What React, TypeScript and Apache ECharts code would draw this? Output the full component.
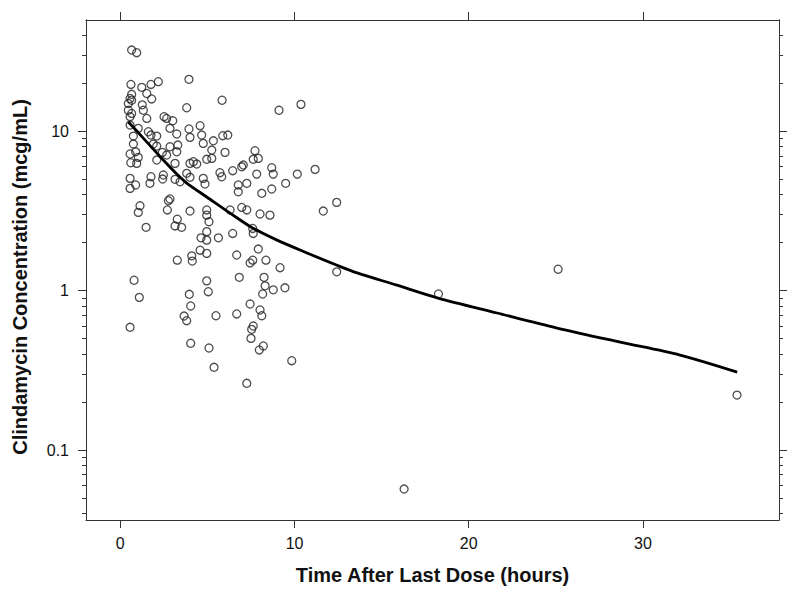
import React, { useEffect, useRef } from "react";
import * as echarts from "echarts";

// Observed data: time after last dose (hours) and clindamycin concentration (mcg/mL)
const timeHours = [
  0.65, 0.94, 0.61, 1.23, 1.76, 2.18, 3.94, 0.65, 1.52, 1.8, 0.65, 0.46, 3.81, 5.84, 1.26, 1.32, 9.11, 10.37,
  0.65, 1.52, 2.51, 2.66, 3.01, 0.56, 1.03, 2.85, 3.94, 4.58, 1.61, 3.24, 0.75, 1.76, 2.09, 4.0, 4.67, 5.88,
  6.17, 5.34, 4.76, 0.75, 1.89, 2.09, 2.85, 3.3, 0.88, 5.25, 6.01, 7.73, 0.56, 2.41, 2.66, 3.24, 1.03, 0.6,
  0.94, 2.09, 4.96, 5.25, 7.63, 7.92, 3.14, 4.0, 4.19, 4.39, 7.06, 6.97, 8.69, 11.18, 0.56, 0.88, 0.56, 1.7,
  2.43, 3.14, 3.43, 3.81, 4.0, 4.76, 4.86, 5.72, 5.82, 6.45, 6.77, 7.26, 7.83, 8.78, 8.12, 8.69, 9.49, 10.16,
  2.85, 0.46, 0.56, 0.56, 2.47, 1.76, 6.77,
  1.13, 1.03, 2.76, 2.7, 4.0, 4.96, 4.96, 6.3, 6.97, 7.26, 8.02, 8.59, 11.65, 12.42, 1.48, 3.27, 3.14, 3.52,
  5.09, 6.45, 7.6, 7.63, 4.96, 4.63, 4.96, 5.63, 4.58, 4.96, 4.1, 4.13, 3.27, 6.68, 7.92, 7.6, 7.45, 8.36,
  9.17, 12.42, 0.79, 1.09, 4.96, 5.05, 3.96, 4.04, 6.83, 8.25, 8.31, 8.78, 9.45, 8.17, 7.45, 8.02, 8.12, 3.66,
  3.81, 5.49, 6.68, 0.56, 7.63, 7.54, 7.5, 4.04, 5.09, 8.21, 7.98, 5.38, 7.26, 9.84, 16.29, 18.26, 25.13, 35.4,
];
const concentration = [
  32.2, 31.0, 19.6, 18.8, 19.6, 20.4, 21.1, 17.0, 17.2, 15.9, 15.6, 14.9, 14.0, 15.6, 14.6, 13.5, 13.5, 14.7,
  12.9, 12.0, 12.3, 12.0, 11.6, 10.9, 10.4, 10.4, 10.3, 10.8, 9.9, 9.58, 9.3, 9.44, 9.3, 9.13, 9.44, 9.35,
  9.44, 8.69, 8.37, 8.29, 8.29, 8.05, 7.97, 8.17, 7.41, 7.6, 7.35, 7.53, 7.18, 7.35, 7.07, 7.41, 6.84, 6.33,
  6.27, 6.58, 6.65, 6.74, 6.65, 6.74, 6.27, 6.27, 6.42, 6.21, 6.12, 5.97, 5.89, 5.75, 5.05, 4.59, 4.37, 4.7,
  5.0, 4.98, 4.81, 5.43, 5.13, 5.05, 4.65, 5.48, 5.17, 5.64, 4.16, 4.7, 5.37, 5.37, 4.07, 4.33, 4.7, 5.37,
  3.75, 13.5, 12.3, 16.0, 5.3, 5.17, 4.59,
  3.4, 3.09, 3.66, 3.2, 3.15, 3.2, 2.97, 3.2, 3.32, 3.2, 3.02, 2.97, 3.15, 3.57, 2.49, 2.8, 2.54, 2.49,
  2.7, 2.28, 2.45, 2.28, 2.34, 2.14, 2.07, 2.14, 1.79, 1.71, 1.65, 1.53, 1.55, 1.67, 1.82, 1.55, 1.49, 1.55,
  1.39, 1.31, 1.16, 0.906, 1.15, 0.983, 0.947, 0.8, 1.21, 1.21, 1.07, 1.01, 1.04, 0.951, 0.823, 0.755, 0.695, 0.692,
  0.647, 0.695, 0.713, 0.588, 0.599, 0.571, 0.501, 0.467, 0.436, 0.449, 0.424, 0.33, 0.262, 0.363, 0.0569, 0.951, 1.36, 0.221,
];

// Smoothed trend line
const fitTime = [0.46, 1.0, 1.71, 2.5, 3.24, 3.81, 4.96, 6.71, 7.62, 9.0, 10.72, 12.44, 13.59, 15.88, 18.24, 21.62, 25.07, 28.69, 32.13, 35.41];
const fitConc = [11.4, 9.86, 8.1, 6.52, 5.37, 4.72, 3.86, 2.85, 2.46, 2.07, 1.72, 1.44, 1.29, 1.08, 0.897, 0.723, 0.582, 0.475, 0.394, 0.308];

// Axis ranges, tick labels and titles
const xRange = [-1.97, 37.81];
const xTicks = [0, 10, 20, 30];
const yRange = [0.0364, 49.7];
const yMajorTicks = [0.1, 1, 10];
const xTitle = "Time After Last Dose (hours)";
const yTitle = "Clindamycin Concentration (mcg/mL)";

const lg = (v: number) => Math.log10(v);

export default function App() {
  const ref = useRef<HTMLDivElement>(null);

  useEffect(() => {
    if (!ref.current) return;
    const chart = echarts.init(ref.current, null, { renderer: "svg" });

    const yMin = lg(yRange[0]);
    const yMax = lg(yRange[1]);
    const majors = yMajorTicks.map(lg);
    const minors: number[] = [];
    for (let d = -2; d <= 2; d++) {
      for (let k = 2; k <= 9; k++) {
        const v = lg(k) + d;
        if (v > yMin && v < yMax) minors.push(v);
      }
    }

    const axisColor = "#333";
    const font = "'Liberation Sans', Arial, sans-serif";
    const lineStyle = { color: axisColor, width: 1 };

    const yBase = (position: "left" | "right", ticks: number[], len: number, labels: boolean) => ({
      type: "value",
      position,
      min: yMin,
      max: yMax,
      splitLine: { show: false },
      axisLine: { show: true, onZero: false, lineStyle },
      axisTick: { show: true, length: len, lineStyle, customValues: ticks },
      axisLabel: labels
        ? {
            show: true,
            customValues: majors,
            margin: 17,
            fontSize: 16,
            color: "#111",
            fontFamily: font,
            formatter: (v: number) => String(Number(Math.pow(10, v).toPrecision(3))),
          }
        : { show: false },
    });

    const xBase = (position: "top" | "bottom", labels: boolean) => ({
      type: "value",
      position,
      min: xRange[0],
      max: xRange[1],
      splitLine: { show: false },
      axisLine: { show: true, onZero: false, lineStyle },
      axisTick: { show: true, length: 8, lineStyle, customValues: xTicks },
      axisLabel: labels
        ? { show: true, customValues: xTicks, margin: 15, fontSize: 16, color: "#111", fontFamily: font }
        : { show: false },
    });

    const titleStyle = {
      fontSize: 20,
      fontWeight: "bold",
      fontFamily: font,
      fill: "#111",
      align: "center",
      verticalAlign: "middle",
    };

    chart.setOption({
      animation: false,
      backgroundColor: "#fff",
      grid: { left: 86, top: 20, width: 693, height: 500, containLabel: false },
      xAxis: [xBase("bottom", true), xBase("top", false)],
      yAxis: [
        yBase("left", majors, 8, true),
        yBase("left", minors, 4, false),
        yBase("right", majors, 8, false),
        yBase("right", minors, 4, false),
      ],
      graphic: [
        { type: "text", x: 432.5, y: 575, style: { ...titleStyle, text: xTitle } },
        { type: "text", x: 20, y: 277, rotation: Math.PI / 2, style: { ...titleStyle, text: yTitle } },
      ],
      series: [
        {
          type: "scatter",
          xAxisIndex: 0,
          yAxisIndex: 0,
          symbol: "circle",
          symbolSize: 8,
          itemStyle: { color: "transparent", borderColor: "#222", borderWidth: 1.3 },
          data: timeHours.map((t, i) => [t, lg(concentration[i])]),
        },
        {
          type: "line",
          xAxisIndex: 0,
          yAxisIndex: 0,
          smooth: 0.3,
          showSymbol: false,
          lineStyle: { color: "#000", width: 2.8 },
          data: fitTime.map((t, i) => [t, lg(fitConc[i])]),
        },
      ],
    });

    return () => chart.dispose();
  }, []);

  return (
    <div
      ref={ref}
      style={{ position: "fixed", left: 0, top: 0, width: 800, height: 599, background: "#fff" }}
    />
  );
}
